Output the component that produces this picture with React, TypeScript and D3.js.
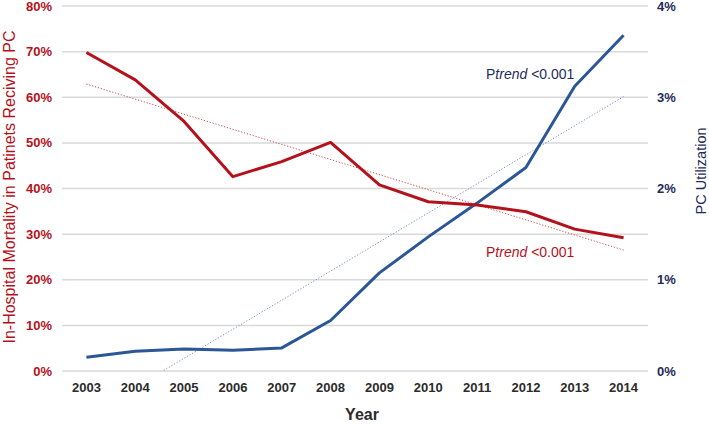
import React from "react";
import * as d3 from "d3";

const years = ["2003","2004","2005","2006","2007","2008","2009","2010","2011","2012","2013","2014"];
const mortality = [0.698, 0.638, 0.547, 0.426, 0.459, 0.501, 0.408, 0.371, 0.364, 0.349, 0.311, 0.292];
const utilization = [0.0015, 0.00216, 0.0024, 0.00227, 0.00253, 0.00553, 0.01075, 0.0147, 0.0184, 0.0223, 0.0312, 0.0368];
const leftTicks = [0, 0.1, 0.2, 0.3, 0.4, 0.5, 0.6, 0.7, 0.8];
const rightTicks = [0, 0.01, 0.02, 0.03, 0.04];

const W = 709, H = 424;
const PL = 62, PR = 648, PT = 6, PB = 371;
const RED = "#b3121c";
const BLUE = "#2c5797";
const NAVY = "#1f2b5b";
const FONT = "'Liberation Sans', Arial, Helvetica, sans-serif";

function regression(vals: number[]) {
  const n = vals.length;
  const mx = (n - 1) / 2;
  const my = d3.mean(vals) as number;
  let sxy = 0, sxx = 0;
  vals.forEach((v, i) => { sxy += (i - mx) * (v - my); sxx += (i - mx) * (i - mx); });
  const b = sxy / sxx;
  return [my - b * mx, my + b * (n - 1 - mx)];
}

export default function App() {
  const x = d3.scaleBand<string>().domain(years).range([PL, PR]);
  const cx = (y: string) => (x(y) as number) + x.bandwidth() / 2;
  const yL = d3.scaleLinear().domain([0, 0.8]).range([PB, PT]);
  const yR = d3.scaleLinear().domain([0, 0.04]).range([PB, PT]);

  const redLine = d3.line<number>().x((_, i) => cx(years[i])).y((d) => yL(d));
  const blueLine = d3.line<number>().x((_, i) => cx(years[i])).y((d) => yR(d));

  const rt = regression(mortality);
  const bt = regression(utilization);
  const first = cx(years[0]);
  const last = cx(years[years.length - 1]);

  return (
    <svg width={W} height={H} style={{ position: "absolute", left: 0, top: 0, background: "#fff" }}>
      <defs>
        <clipPath id="plot">
          <rect x={PL} y={PT} width={PR - PL} height={PB - PT} />
        </clipPath>
      </defs>
      {leftTicks.map((t) => (
        <line key={t} x1={PL} x2={PR} y1={yL(t)} y2={yL(t)} stroke="#d9d9d9" strokeWidth={1.5} />
      ))}
      {leftTicks.map((t) => (
        <text key={"l" + t} x={52} y={yL(t)} dy="0.35em" textAnchor="end" fontFamily={FONT}
          fontWeight="bold" fontSize={13} fill={RED}>{d3.format(".0%")(t)}</text>
      ))}
      {rightTicks.map((t) => (
        <text key={"r" + t} x={657} y={yR(t)} dy="0.35em" textAnchor="start" fontFamily={FONT}
          fontWeight="bold" fontSize={13} fill={NAVY}>{d3.format(".0%")(t)}</text>
      ))}
      {years.map((y) => (
        <text key={y} x={cx(y)} y={392} textAnchor="middle" fontFamily={FONT} fontWeight="bold"
          fontSize={13} fill="#2b2b2b">{y}</text>
      ))}
      <g clipPath="url(#plot)">
        <line x1={first} x2={last} y1={yL(rt[0])} y2={yL(rt[1])} stroke="#d2474d" strokeWidth={1}
          strokeDasharray="1.2,1.8" />
        <line x1={first} x2={last} y1={yR(bt[0])} y2={yR(bt[1])} stroke="#6f8fd0" strokeWidth={1}
          strokeDasharray="1.2,1.8" />
      </g>
      <path d={blueLine(utilization) as string} fill="none" stroke={BLUE} strokeWidth={3} strokeLinejoin="round" />
      <path d={redLine(mortality) as string} fill="none" stroke={RED} strokeWidth={3} strokeLinejoin="round" />
      <text x={486} y={79} fontFamily={FONT} fontSize={14} fill={NAVY}>
        P<tspan fontStyle="italic">trend</tspan> &lt;0.001
      </text>
      <text x={486} y={257} fontFamily={FONT} fontSize={14} fill={RED}>
        P<tspan fontStyle="italic">trend</tspan> &lt;0.001
      </text>
      <text transform={`translate(15,187) rotate(-90)`} textAnchor="middle" fontFamily={FONT}
        fontSize={16} fill={RED}>In-Hospital Mortality in Patinets Reciving PC</text>
      <text transform={`translate(706,171) rotate(-90)`} textAnchor="middle" fontFamily={FONT}
        fontSize={14.5} fill={NAVY}>PC Utilization</text>
      <text x={362} y={420} textAnchor="middle" fontFamily={FONT} fontWeight="bold" fontSize={16}
        fill="#2b2b2b">Year</text>
    </svg>
  );
}
